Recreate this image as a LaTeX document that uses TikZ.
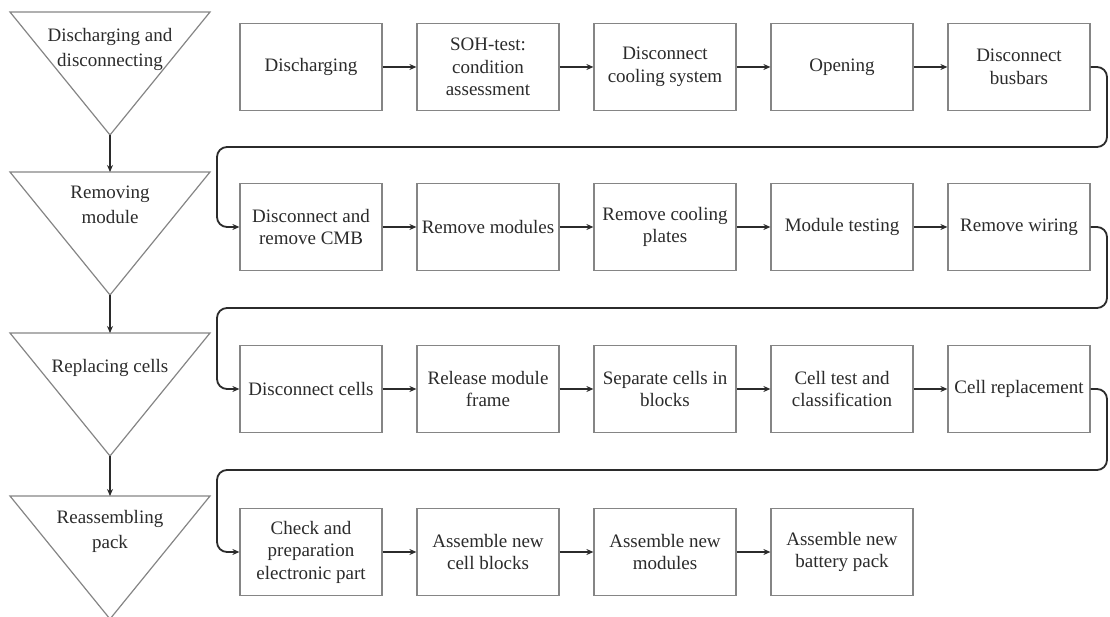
\documentclass[tikz,border=0pt]{standalone}
\usepackage{fontspec}
\setmainfont{Liberation Serif}
\usetikzlibrary{arrows.meta}
\definecolor{edge}{HTML}{858585}
\definecolor{ink}{HTML}{2B2B2B}
\tikzset{
  stepbox/.style={draw=edge, line width=1.2pt, fill=white, minimum width=142pt,
    minimum height=87pt, inner sep=0pt, align=center, text=ink,
    font=\fontsize{19}{22.5}\selectfont},
  stagetxt/.style={align=center, text=ink, inner sep=0pt,
    font=\fontsize{19}{25}\selectfont},
  stage/.style={draw=edge, line width=1.2pt, line join=miter},
  flow/.style={draw=ink, line width=1.8pt, -{Stealth[length=7pt,width=6pt]}},
  loop/.style={flow, rounded corners=10pt}
}
\begin{document}
\begin{tikzpicture}[x=1pt, y=-1pt]
\useasboundingbox (0,0) rectangle (1110,617);

% stage triangles on the left
\foreach \t/\n in {12/s1, 172/s2, 333/s3, 496/s4}{
  \coordinate (\n top) at (110,\t);
  \coordinate (\n tip) at (110,\t+123);
  \draw[stage] (10,\t) -- (210,\t) -- (\n tip) -- cycle;
}
\node[stagetxt] (t1) at (110,49) {Discharging and\\disconnecting};
\node[stagetxt] (t2) at (110,205) {Removing\\module};
\node[stagetxt] (t3) at (110,368) {Replacing cells};
\node[stagetxt] (t4) at (110,531) {Reassembling\\pack};

\draw[flow] (s1tip) -- (s2top);
\draw[flow] (s2tip) -- (s3top);
\draw[flow] (s3tip) -- (s4top);

% row 1
\node[stepbox] (b11) at (311,67) {Discharging};
\node[stepbox] (b12) at (488,67) {SOH-test:\\condition\\assessment};
\node[stepbox] (b13) at (665,67) {Disconnect\\cooling system};
\node[stepbox] (b14) at (842,67) {Opening};
\node[stepbox] (b15) at (1019,67) {Disconnect\\busbars};
% row 2
\node[stepbox] (b21) at (311,227) {Disconnect and\\remove CMB};
\node[stepbox] (b22) at (488,227) {Remove modules};
\node[stepbox] (b23) at (665,227) {Remove cooling\\plates};
\node[stepbox] (b24) at (842,227) {Module testing};
\node[stepbox] (b25) at (1019,227) {Remove wiring};
% row 3
\node[stepbox] (b31) at (311,389) {Disconnect cells};
\node[stepbox] (b32) at (488,389) {Release module\\frame};
\node[stepbox] (b33) at (665,389) {Separate cells in\\blocks};
\node[stepbox] (b34) at (842,389) {Cell test and\\classification};
\node[stepbox] (b35) at (1019,389) {Cell replacement};
% row 4
\node[stepbox] (b41) at (311,552) {Check and\\preparation\\electronic part};
\node[stepbox] (b42) at (488,552) {Assemble new\\cell blocks};
\node[stepbox] (b43) at (665,552) {Assemble new\\modules};
\node[stepbox] (b44) at (842,552) {Assemble new\\battery pack};

% arrows within rows
\foreach \a/\b in {b11/b12, b12/b13, b13/b14, b14/b15,
                   b21/b22, b22/b23, b23/b24, b24/b25,
                   b31/b32, b32/b33, b33/b34, b34/b35,
                   b41/b42, b42/b43, b43/b44}
  \draw[flow] (\a) -- (\b);

% return loops between rows
\coordinate (r1) at (1107,147);  \coordinate (l1) at (217,147);
\coordinate (r2) at (1107,308);  \coordinate (l2) at (217,308);
\coordinate (r3) at (1107,470);  \coordinate (l3) at (217,470);
\draw[loop] (b15.east) -| (r1) -- (l1) |- (b21.west);
\draw[loop] (b25.east) -| (r2) -- (l2) |- (b31.west);
\draw[loop] (b35.east) -| (r3) -- (l3) |- (b41.west);
\end{tikzpicture}
\end{document}
